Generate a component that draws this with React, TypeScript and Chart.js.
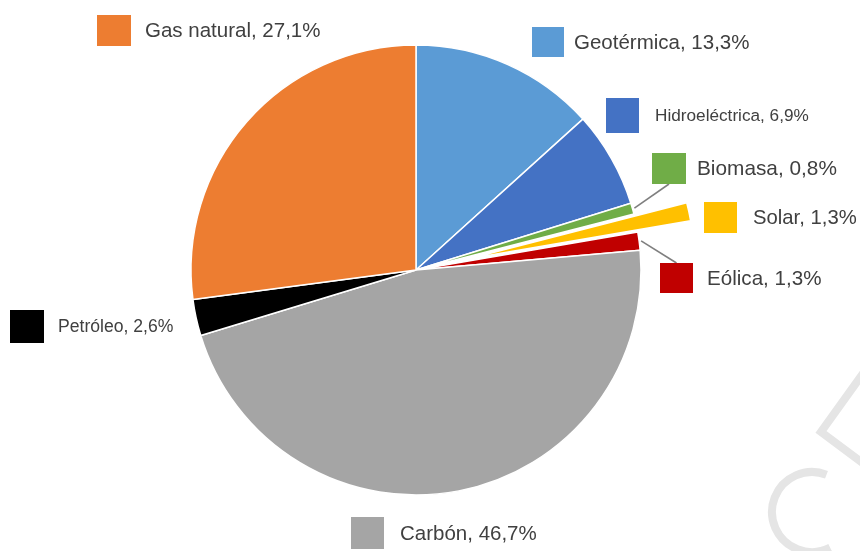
import React, { useEffect, useRef } from "react";
import { Chart, registerables } from "chart.js";

Chart.register(...registerables);

// Electricity generation mix (%), clockwise from 12 o'clock
const sources = [
  "Geotérmica",
  "Hidroeléctrica",
  "Biomasa",
  "Solar",
  "Eólica",
  "Carbón",
  "Petróleo",
  "Gas natural",
];
const shares = [13.3, 6.9, 0.8, 1.3, 1.3, 46.7, 2.6, 27.1];
const sliceColors = [
  "#5B9BD5",
  "#4472C4",
  "#70AD47",
  "#FFC000",
  "#C00000",
  "#A5A5A5",
  "#000000",
  "#ED7D31",
];
// slices pulled straight out of the pie (px), Solar only
const explode = [0, 0, 0, 54, 0, 0, 0, 0];

// label boxes: marker square, text anchor, font size, optional leader line anchor
type LabelBox = {
  mx: number; my: number; mw: number; mh: number;
  tx: number; ty: number; size: number;
  leader?: "bottom" | "top";
};
const labelBoxes: LabelBox[] = [
  { mx: 532, my: 27, mw: 32, mh: 30, tx: 574, ty: 43, size: 20.5 },
  { mx: 606, my: 98, mw: 33, mh: 35, tx: 655, ty: 116, size: 17.2 },
  { mx: 652, my: 153, mw: 34, mh: 31, tx: 697, ty: 169, size: 20.8, leader: "bottom" },
  { mx: 704, my: 202, mw: 33, mh: 31, tx: 753, ty: 218, size: 20.3 },
  { mx: 660, my: 263, mw: 33, mh: 30, tx: 707, ty: 279, size: 20.6, leader: "top" },
  { mx: 351, my: 517, mw: 33, mh: 32, tx: 400, ty: 534, size: 20.5 },
  { mx: 10, my: 310, mw: 34, mh: 33, tx: 58, ty: 327, size: 17.6 },
  { mx: 97, my: 15, mw: 34, mh: 31, tx: 145, ty: 31, size: 20.5 },
];

const SLICE_BORDER = "#ffffff";
const HIDDEN = "rgba(0,0,0,0)";

const fmt = (v: number) => v.toFixed(1).replace(".", ",") + "%";

const watermark = {
  id: "watermark",
  beforeDraw(chart: Chart) {
    const ctx = chart.ctx;
    ctx.save();
    ctx.strokeStyle = "#e5e5e5";
    ctx.lineWidth = 8;
    ctx.lineCap = "butt";
    ctx.beginPath();
    ctx.arc(812, 512, 40, -1.2, 1.1, true);
    ctx.stroke();
    ctx.beginPath();
    ctx.moveTo(864, 372);
    ctx.lineTo(821, 432);
    ctx.lineTo(864, 464);
    ctx.stroke();
    ctx.restore();
  },
};

// Re-draws exploded slices translated outward along their mid-angle
const explodedSlices = {
  id: "explodedSlices",
  afterDatasetsDraw(chart: Chart) {
    const ctx = chart.ctx;
    const meta = chart.getDatasetMeta(0);
    meta.data.forEach((el: any, i: number) => {
      const d = explode[i];
      if (!d) return;
      const p = el.getProps(["startAngle", "endAngle"], true);
      const mid = (p.startAngle + p.endAngle) / 2;
      const saved = el.options;
      el.options = Object.assign({}, saved, {
        backgroundColor: sliceColors[i],
        borderColor: SLICE_BORDER,
      });
      ctx.save();
      ctx.translate(Math.cos(mid) * d, Math.sin(mid) * d);
      el.draw(ctx);
      ctx.restore();
      el.options = saved;
    });
  },
};

const sliceLabels = {
  id: "sliceLabels",
  afterDraw(chart: Chart) {
    const ctx = chart.ctx;
    const meta = chart.getDatasetMeta(0);
    ctx.save();
    labelBoxes.forEach((b, i) => {
      // leader line from the slice rim to the marker
      if (b.leader) {
        const arc: any = meta.data[i];
        const p = arc.getProps(["x", "y", "startAngle", "endAngle", "outerRadius"], true);
        const mid = (p.startAngle + p.endAngle) / 2;
        const r = p.outerRadius + 2;
        const sx = p.x + Math.cos(mid) * r;
        const sy = p.y + Math.sin(mid) * r;
        const ex = b.mx + b.mw / 2;
        const ey = b.leader === "bottom" ? b.my + b.mh : b.my;
        ctx.strokeStyle = "#7f7f7f";
        ctx.lineWidth = 1.6;
        ctx.beginPath();
        ctx.moveTo(sx, sy);
        ctx.lineTo(ex, ey);
        ctx.stroke();
      }
      ctx.fillStyle = sliceColors[i];
      ctx.fillRect(b.mx, b.my, b.mw, b.mh);
      ctx.fillStyle = "#404040";
      ctx.font = `${b.size}px "Liberation Sans", Arial, sans-serif`;
      ctx.textBaseline = "middle";
      ctx.textAlign = "left";
      ctx.fillText(`${sources[i]}, ${fmt(shares[i])}`, b.tx, b.ty);
    });
    ctx.restore();
  },
};

export default function App() {
  const canvasRef = useRef<HTMLCanvasElement | null>(null);

  useEffect(() => {
    document.body.style.margin = "0";
    const canvas = canvasRef.current;
    if (!canvas) return;
    const chart = new Chart(canvas, {
      type: "pie",
      data: {
        labels: sources,
        datasets: [
          {
            data: shares,
            backgroundColor: sliceColors.map((c, i) => (explode[i] ? HIDDEN : c)),
            borderColor: sliceColors.map((_, i) => (explode[i] ? HIDDEN : SLICE_BORDER)),
            borderWidth: 1.5,
          },
        ],
      },
      options: {
        responsive: false,
        animation: false,
        devicePixelRatio: 1,
        radius: 225,
        layout: { padding: { left: 0, right: 28, top: 0, bottom: 11 } },
        plugins: {
          legend: { display: false },
          tooltip: { enabled: false },
        },
        events: [],
      },
      plugins: [watermark, explodedSlices, sliceLabels],
    });
    return () => chart.destroy();
  }, []);

  return (
    <div style={{ width: 860, height: 551, background: "#ffffff" }}>
      <canvas ref={canvasRef} width={860} height={551} style={{ display: "block" }} />
    </div>
  );
}
